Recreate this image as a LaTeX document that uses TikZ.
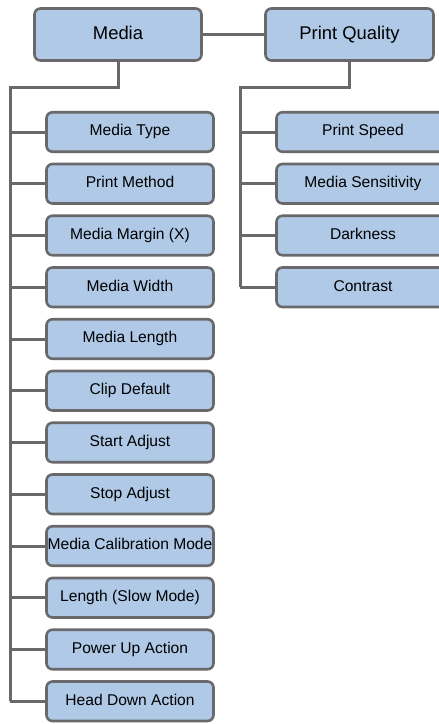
\documentclass[tikz,border=0pt]{standalone}
\usepackage{fontspec}
\setmainfont{Liberation Sans}
\definecolor{boxfill}{RGB}{175,201,231}
\definecolor{edge}{RGB}{105,105,107}
\begin{document}
\begin{tikzpicture}[x=1pt,y=-1pt,
  box/.style={draw=edge, fill=boxfill, line width=2.6pt, rounded corners=6pt, inner sep=0pt, align=center},
  topbox/.style={box, minimum width=167pt, minimum height=52pt, text height=13.2pt, text depth=4pt, font=\fontsize{18.4}{20}\selectfont},
  lchild/.style={box, minimum width=167pt, minimum height=39.5pt, text height=11.2pt, text depth=3.4pt, font=\fontsize{15.6}{17}\selectfont},
  rchild/.style={lchild, minimum width=173pt},
  link/.style={draw=edge, line width=3pt}]
\useasboundingbox (0,0) rectangle (439,724);
\clip (0,0) rectangle (439,724);
\coordinate (lt) at (10,87);
\coordinate (rt) at (240,87);
\node[topbox] (media) at (118,34.5) {Media};
\node[topbox, minimum width=168pt] (pq) at (349.5,34.5) {Print Quality};
\foreach \t [count=\i] in {Media Type,Print Method,Media Margin (X),Media Width,Media Length,Clip Default,Start Adjust,Stop Adjust,Media Calibration Mode,Length (Slow Mode),Power Up Action,Head Down Action}{
  \node[lchild] (l\i) at (130,{132+51.75*(\i-1)}) {\t};
}
\foreach \t [count=\i] in {Print Speed,Media Sensitivity,Darkness,Contrast}{
  \node[rchild] (r\i) at (363,{132+51.75*(\i-1)}) {\t};
}
\draw[link] (media.east) -- (pq.west);
\draw[link] (media.south) -- (media.south |- lt) -- (lt) -- (lt |- l12.west);
\draw[link] (pq.south) -- (pq.south |- rt) -- (rt) -- (rt |- r4.west);
\foreach \i in {1,...,12}{ \draw[link] (lt |- l\i.west) -- (l\i.west); }
\foreach \i in {1,...,4}{ \draw[link] (rt |- r\i.west) -- (r\i.west); }
\end{tikzpicture}
\end{document}
